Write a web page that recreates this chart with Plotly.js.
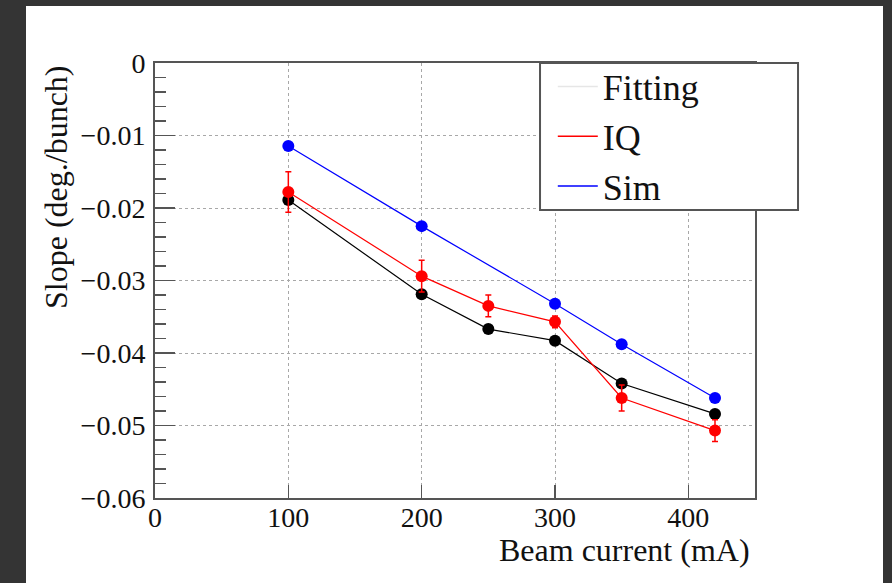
<!DOCTYPE html>
<html>
<head>
<meta charset="utf-8">
<script src="https://cdn.plot.ly/plotly-3.0.1.min.js"></script>
<style>
  html, body { margin: 0; padding: 0; background: #343434; width: 892px; height: 583px; overflow: hidden; }
  #chart { position: absolute; left: 26px; top: 6px; width: 857px; height: 577px; background: #fff; }
</style>
</head>
<body>
<div id="chart"></div>
<script>
// Data
const beamCurrent = [100, 200, 250, 300, 350, 420];
const fitting = [-0.0189, -0.0319, -0.0367, -0.0383, -0.0442, -0.0484];
const fittingErr = [0.0005, 0.0005, 0.0004, 0.0004, 0.0005, 0.0005];
const iq = [-0.0178, -0.0294, -0.0335, -0.0357, -0.0462, -0.0507];
const iqErr = [0.0028, 0.0022, 0.0015, 0.0008, 0.0018, 0.0015];
const simCurrent = [100, 200, 300, 350, 420];
const sim = [-0.01145, -0.0225, -0.0332, -0.0388, -0.0462];
const seriesNames = ["Fitting", "IQ", "Sim"];
const yTickVals = [0, -0.01, -0.02, -0.03, -0.04, -0.05, -0.06];
const xTickVals = [0, 100, 200, 300, 400];

const FONT = "Liberation Serif, Times New Roman, serif";

const traces = [
  {
    x: beamCurrent, y: fitting, mode: "lines+markers", name: seriesNames[0], showlegend: false,
    line: { color: "#000000", width: 1.2 },
    marker: { color: "#000000", size: 12 },
    error_y: { type: "data", array: fittingErr, color: "#000000", thickness: 1.5, width: 3 }
  },
  {
    x: beamCurrent, y: iq, mode: "lines+markers", name: seriesNames[1], showlegend: false,
    line: { color: "#ff0000", width: 1.2 },
    marker: { color: "#ff0000", size: 12 },
    error_y: { type: "data", array: iqErr, color: "#ff0000", thickness: 1.5, width: 3 }
  },
  {
    x: simCurrent, y: sim, mode: "lines+markers", name: seriesNames[2], showlegend: false,
    line: { color: "#0000ff", width: 1.2 },
    marker: { color: "#0000ff", size: 12 }
  },
  // legend-only entries (lines without markers, as in the reference)
  { x: [null], y: [null], mode: "lines", name: seriesNames[0], legendgroup: "a", line: { color: "#e6e6e6", width: 1.5 } },
  { x: [null], y: [null], mode: "lines", name: seriesNames[1], legendgroup: "b", line: { color: "#ff0000", width: 1.5 } },
  { x: [null], y: [null], mode: "lines", name: seriesNames[2], legendgroup: "c", line: { color: "#0000ff", width: 1.5 } }
];

const axisCommon = {
  showline: true, linecolor: "#555555", linewidth: 2, mirror: true,
  ticks: "inside", tickcolor: "#555555", tickwidth: 1.5,
  showgrid: true, gridcolor: "#a8a8a8", gridwidth: 1, griddash: "3px,3px",
  zeroline: false,
  tickfont: { family: FONT, size: 28, color: "#111111" }
};

const layout = {
  width: 857, height: 577,
  margin: { l: 129, r: 128, t: 57, b: 85 },
  paper_bgcolor: "#ffffff", plot_bgcolor: "#ffffff",
  font: { family: FONT, color: "#111111" },
  xaxis: Object.assign({}, axisCommon, {
    range: [0, 450], tickvals: xTickVals, ticklen: 13,
    ticklabelstandoff: -7
  }),
  yaxis: Object.assign({}, axisCommon, {
    range: [-0.06, 0], tickvals: yTickVals, ticklen: 20,
    minor: { ticks: "inside", ticklen: 11, dtick: 0.002, tickcolor: "#555555", tickwidth: 1.5, showgrid: false },
    ticklabelstandoff: 2
  }),
  showlegend: true,
  legend: {
    x: 0.663, y: 1.015, xanchor: "left", yanchor: "top",
    bgcolor: "rgba(0,0,0,0)", borderwidth: 0,
    font: { family: FONT, size: 36, color: "#111111" },
    traceorder: "grouped", tracegroupgap: 0, itemwidth: 40
  },
  shapes: [{
    type: "rect", xref: "paper", yref: "paper",
    x0: 0.6417, x1: 1.0717, y0: 0.662, y1: 1.0,
    line: { color: "#555555", width: 2 }, fillcolor: "#ffffff", layer: "above"
  }],
  annotations: [
    { text: "Beam current (mA)", xref: "paper", yref: "paper", x: 0.995, y: -0.12,
      xanchor: "right", yanchor: "middle", showarrow: false,
      font: { family: FONT, size: 32, color: "#111111" } },
    { text: "Slope (deg./bunch)", xref: "paper", yref: "paper", x: -0.165, y: 1.0,
      xanchor: "center", yanchor: "top", textangle: -90, showarrow: false,
      font: { family: FONT, size: 32, color: "#111111" } }
  ]
};

Plotly.newPlot("chart", traces, layout, { displayModeBar: false, staticPlot: true });
</script>
</body>
</html>
